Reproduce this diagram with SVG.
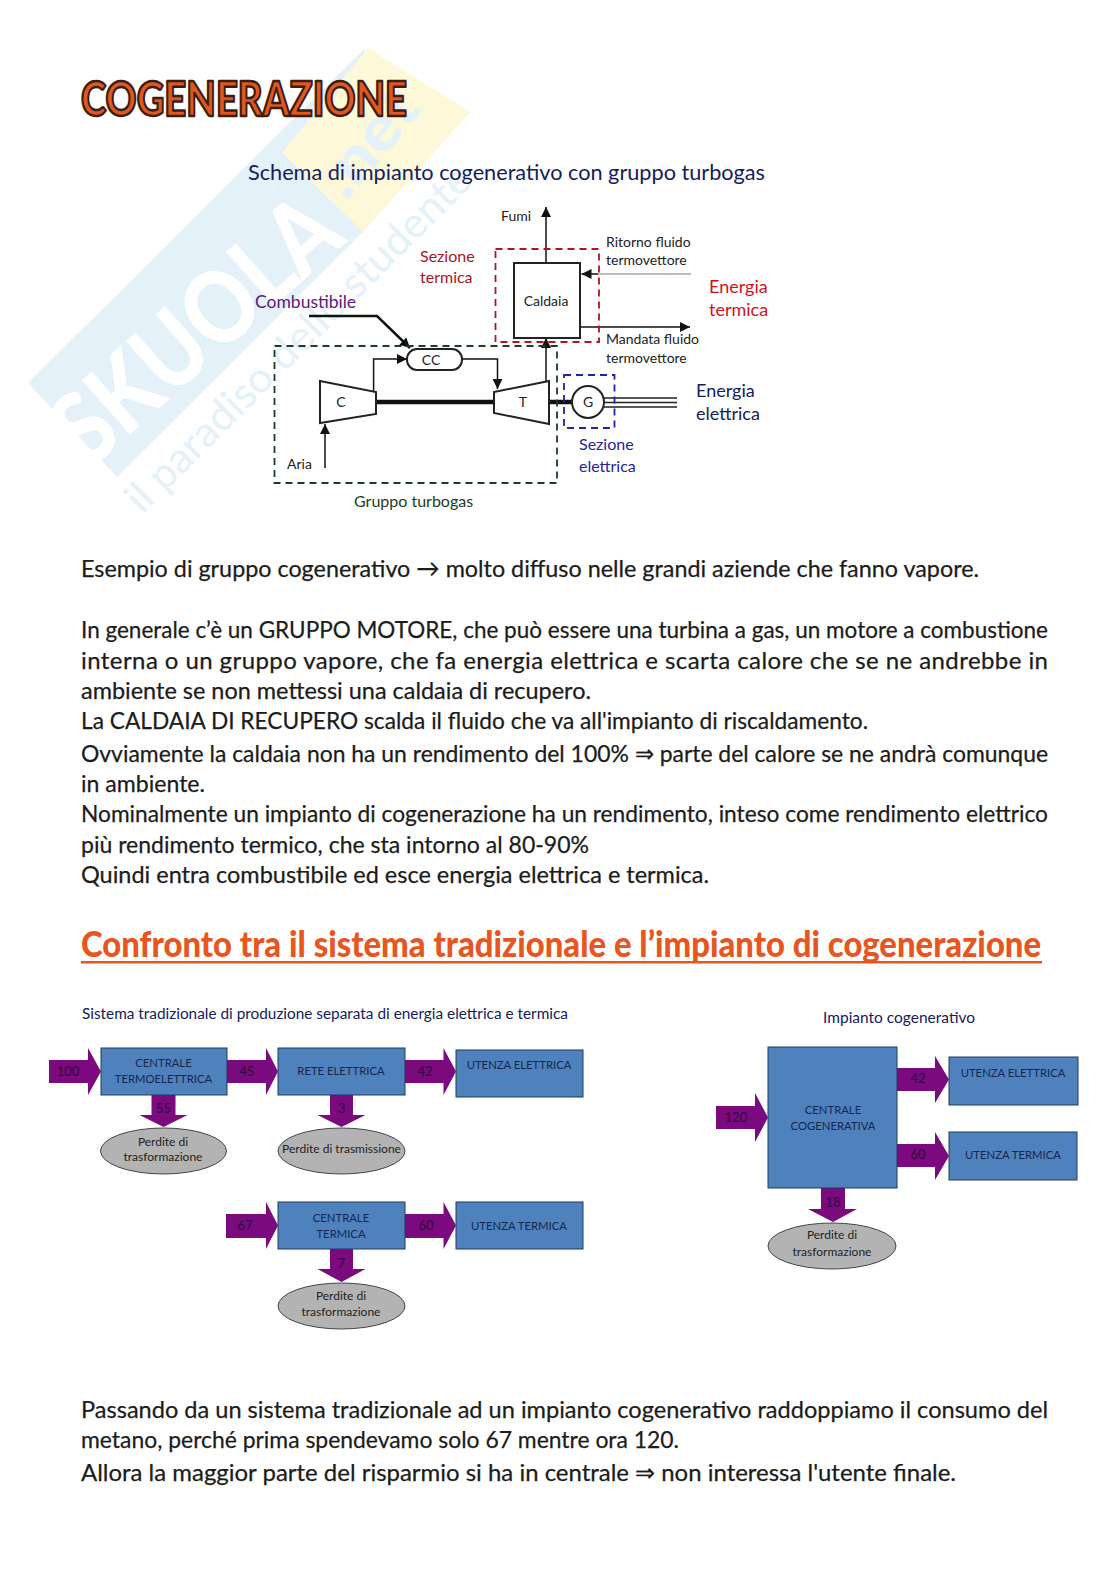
<svg xmlns="http://www.w3.org/2000/svg" width="1116" height="1579" viewBox="0 0 1116 1579">
<style>
text{font-family:"Lato","Liberation Sans",sans-serif}
.b{font-size:24px;fill:#1c1c1c;stroke:#1c1c1c;stroke-width:.25}
.s{font-size:14px;fill:#222}
.bx{font-size:11.300px;fill:#16274f;text-anchor:middle}
.gx{font-size:12px;fill:#222;text-anchor:middle}
.n{font-size:13px;fill:#2e0840;text-anchor:middle}
.box{fill:#4f81bd;stroke:#1f3a5f;stroke-width:1}
.el{fill:#b3b3b3;stroke:#444;stroke-width:1}
.ar{fill:#7a0a7e}
.ln{fill:none;stroke:#111;stroke-width:1.5}
.tk{fill:none;stroke:#111;stroke-width:4.5}
.eq{fill:#fff;stroke:#222;stroke-width:2}
</style>
<defs>
<marker id="h" viewBox="0 0 10 10" refX="10" refY="5" markerWidth="14" markerHeight="10" markerUnits="userSpaceOnUse" orient="auto"><path d="M0 0L10 5L0 10z" fill="#111"/></marker>
</defs>
<rect width="1116" height="1579" fill="#fff"/>
<g id="watermark">
<polygon points="28,383 365,48 363,232 117,477" fill="#e4f1f9"/>
<polygon points="282,153 368,48 470,112 363,232" fill="#fdf9d8"/>
<text transform="translate(90,470) rotate(-41.600)" font-size="100" font-weight="900" fill="#fff" textLength="345" lengthAdjust="spacingAndGlyphs">SKUOLA</text>
<text transform="translate(346,202) rotate(-50)" font-size="62" font-weight="900" fill="#e4f1f9" textLength="120" lengthAdjust="spacingAndGlyphs">.net</text>
<text transform="translate(142,515) rotate(-45)" font-size="42" fill="#e4f1f9" textLength="470" lengthAdjust="spacingAndGlyphs">il paradiso dello studente</text>
</g>
<text id="title" x="81" y="116" font-size="48" font-weight="900" fill="#e2571e" stroke="#3a1d14" stroke-width="2.500" stroke-linejoin="round" textLength="326" lengthAdjust="spacingAndGlyphs">COGENERAZIONE</text>
<g id="schema">
<text x="248" y="180" font-size="21" fill="#14205e" textLength="517" lengthAdjust="spacingAndGlyphs">Schema di impianto cogenerativo con gruppo turbogas</text>
<g id="connectors-schema">
<path class="ln" d="M546 263V207" marker-end="url(#h)"/>
<path fill="none" stroke="#777" stroke-width="1" d="M691 274H598"/>
<path class="ln" d="M598 274H581.500" marker-end="url(#h)"/>
<path class="ln" d="M580 327H690" stroke-width="2" marker-end="url(#h)"/>
<path fill="none" stroke="#111" stroke-width="2.500" d="M309 316H377L410 348" marker-end="url(#h)"/>
<path class="ln" d="M373.600 392V359H407" marker-end="url(#h)"/>
<path class="ln" d="M462 359H497.500V389" marker-end="url(#h)"/>
<path class="ln" d="M546 381V338" marker-end="url(#h)"/>
<path class="ln" d="M325 468V424" marker-end="url(#h)"/>
<path class="tk" d="M376 402H494M549 402H573"/>
<path fill="none" stroke="#222" stroke-width="1.500" d="M603 398H677M603 402.500H677M603 407H677"/>
</g>
<g id="caldaia"><rect x="514" y="263" width="66" height="75" class="eq"/><text x="546" y="306" class="s" text-anchor="middle">Caldaia</text></g>
<g id="cc"><rect x="407" y="349" width="55" height="21" rx="10" class="eq"/><text x="431" y="365" class="s" text-anchor="middle">CC</text></g>
<g id="compressore"><polygon points="320,381 376,392 376,414 320,423" class="eq"/><text x="341" y="407" class="s" text-anchor="middle">C</text></g>
<g id="turbina"><polygon points="494,392 549,381 549,424 494,413" class="eq"/><text x="523" y="407" class="s" text-anchor="middle">T</text></g>
<g id="generatore"><circle cx="588" cy="402" r="16" class="eq"/><text x="588" y="407" class="s" text-anchor="middle">G</text></g>
<g id="sezioni" fill="none" stroke-width="1.800" stroke-dasharray="7 5">
<rect x="274.500" y="346" width="282.500" height="137" stroke="#1d3d24"/>
<rect x="495.500" y="249" width="103.500" height="93" stroke="#b01226"/>
<rect x="564" y="375" width="50.500" height="53" stroke="#2222aa"/>
</g>
<text x="501" y="221" class="s">Fumi</text>
<text x="606" y="247" class="s">Ritorno fluido</text>
<text x="606" y="265" class="s">termovettore</text>
<text x="606" y="344" class="s">Mandata fluido</text>
<text x="606" y="363" class="s">termovettore</text>
<text x="287" y="469" class="s">Aria</text>
<text x="709" y="293" font-size="18" fill="#d4101c">Energia</text>
<text x="709" y="316" font-size="18" fill="#d4101c">termica</text>
<text x="420" y="262" font-size="16" fill="#b01226">Sezione</text>
<text x="420" y="283" font-size="16" fill="#b01226">termica</text>
<text x="255" y="308" font-size="17.500" fill="#5b1a80">Combustibile</text>
<text x="696" y="397" font-size="18" fill="#14205e">Energia</text>
<text x="696" y="420" font-size="18" fill="#14205e">elettrica</text>
<text x="579" y="450" font-size="16" fill="#2424a0">Sezione</text>
<text x="579" y="472" font-size="16" fill="#2424a0">elettrica</text>
<text x="354" y="507" font-size="16" fill="#1d3d24">Gruppo turbogas</text>
</g>
<g id="testo1">
<text class="b" x="81" y="577" textLength="898" lengthAdjust="spacingAndGlyphs">Esempio di gruppo cogenerativo → molto diffuso nelle grandi aziende che fanno vapore.</text>
<text class="b" x="81" y="638" textLength="967" lengthAdjust="spacingAndGlyphs">In generale c’è un GRUPPO MOTORE, che può essere una turbina a gas, un motore a combustione</text>
<text class="b" x="81" y="669" textLength="967">interna o un gruppo vapore, che fa energia elettrica e scarta calore che se ne andrebbe in</text>
<text class="b" x="81" y="699" textLength="510" lengthAdjust="spacingAndGlyphs">ambiente se non mettessi una caldaia di recupero.</text>
<text class="b" x="81" y="729" textLength="787" lengthAdjust="spacingAndGlyphs">La CALDAIA DI RECUPERO scalda il fluido che va all'impianto di riscaldamento.</text>
<text class="b" x="81" y="762" textLength="967" lengthAdjust="spacingAndGlyphs">Ovviamente la caldaia non ha un rendimento del 100% ⇒ parte del calore se ne andrà comunque</text>
<text class="b" x="81" y="792" textLength="124" lengthAdjust="spacingAndGlyphs">in ambiente.</text>
<text class="b" x="81" y="822" textLength="967" lengthAdjust="spacingAndGlyphs">Nominalmente un impianto di cogenerazione ha un rendimento, inteso come rendimento elettrico</text>
<text class="b" x="81" y="853" textLength="508" lengthAdjust="spacingAndGlyphs">più rendimento termico, che sta intorno al 80-90%</text>
<text class="b" x="81" y="883" textLength="628" lengthAdjust="spacingAndGlyphs">Quindi entra combustibile ed esce energia elettrica e termica.</text>
</g>
<g id="titolo2">
<text transform="translate(81,957) scale(.88,1)" font-size="37" font-weight="900" fill="#e8561f" textLength="1091" lengthAdjust="spacingAndGlyphs">Confronto tra il sistema tradizionale e l’impianto di cogenerazione</text>
<rect x="81" y="961" width="961" height="2.500" fill="#e8561f"/>
</g>
<text x="82" y="1019" font-size="14.500" fill="#14205e" textLength="486" lengthAdjust="spacingAndGlyphs">Sistema tradizionale di produzione separata di energia elettrica e termica</text>
<text x="823" y="1023" font-size="15" fill="#14205e" textLength="152" lengthAdjust="spacingAndGlyphs">Impianto cogenerativo</text>
<g id="connectors">
<polygon class="ar" points="49,1060 88,1060 88,1048 101,1071.500 88,1095 88,1083 49,1083"/>
<polygon class="ar" points="227,1060 266,1060 266,1048 278,1071.500 266,1095 266,1083 227,1083"/>
<polygon class="ar" points="405,1060 443.500,1060 443.500,1048 456,1071.500 443.500,1095 443.500,1083 405,1083"/>
<polygon class="ar" points="226,1214 266,1214 266,1202 278,1225.500 266,1249 266,1238 226,1238"/>
<polygon class="ar" points="405,1214 443.500,1214 443.500,1202 456,1225.500 443.500,1249 443.500,1238 405,1238"/>
<polygon class="ar" points="151.500,1095 175.500,1095 175.500,1115 187.500,1115 163.500,1127 139.500,1115 151.500,1115"/>
<polygon class="ar" points="330,1095 353,1095 353,1115 365.500,1115 341.500,1127 317.500,1115 330,1115"/>
<polygon class="ar" points="330,1249 353,1249 353,1269 365.500,1269 341.500,1282 317.500,1269 330,1269"/>
<polygon class="ar" points="716,1106 755,1106 755,1093 768,1117.500 755,1142 755,1129 716,1129"/>
<polygon class="ar" points="897,1068 935,1068 935,1056 949,1079.500 935,1103 935,1091 897,1091"/>
<polygon class="ar" points="897,1144 935,1144 935,1132 949,1156 935,1180 935,1167 897,1167"/>
<polygon class="ar" points="821,1188 845,1188 845,1209 857,1209 833,1222 808,1209 821,1209"/>
<text class="n" x="68" y="1076">100</text>
<text class="n" x="247" y="1076">45</text>
<text class="n" x="425" y="1076">42</text>
<text class="n" x="163.500" y="1113">55</text>
<text class="n" x="341.500" y="1113">3</text>
<text class="n" x="245" y="1230">67</text>
<text class="n" x="426" y="1230">60</text>
<text class="n" x="341.500" y="1268">7</text>
<text class="n" x="736" y="1122">120</text>
<text class="n" x="918" y="1083">42</text>
<text class="n" x="918" y="1159">60</text>
<text class="n" x="833" y="1207">18</text>
</g>
<g id="centrale-termoelettrica"><rect class="box" x="101" y="1048" width="126" height="47"/><text class="bx" x="163.500" y="1067">CENTRALE</text><text class="bx" x="163.500" y="1083">TERMOELETTRICA</text></g>
<g id="rete-elettrica"><rect class="box" x="278" y="1048" width="127" height="47"/><text class="bx" x="341" y="1075">RETE ELETTRICA</text></g>
<g id="utenza-elettrica-1"><rect class="box" x="456" y="1050" width="127" height="47"/><text class="bx" x="519" y="1069">UTENZA ELETTRICA</text></g>
<g id="perdite-1"><ellipse class="el" cx="163.500" cy="1151" rx="63" ry="23"/><text class="gx" x="163" y="1146">Perdite di</text><text class="gx" x="163" y="1161">trasformazione</text></g>
<g id="perdite-2"><ellipse class="el" cx="341.500" cy="1151" rx="63.500" ry="23"/><text class="gx" x="341.500" y="1153">Perdite di trasmissione</text></g>
<g id="centrale-termica"><rect class="box" x="278" y="1202" width="127" height="47"/><text class="bx" x="341" y="1222">CENTRALE</text><text class="bx" x="341" y="1238">TERMICA</text></g>
<g id="utenza-termica-1"><rect class="box" x="456" y="1202" width="127" height="47"/><text class="bx" x="519" y="1230">UTENZA TERMICA</text></g>
<g id="perdite-3"><ellipse class="el" cx="341.500" cy="1306" rx="63.500" ry="23"/><text class="gx" x="341" y="1300">Perdite di</text><text class="gx" x="341" y="1316">trasformazione</text></g>
<g id="centrale-cogenerativa"><rect class="box" x="768" y="1047" width="129" height="141"/><text class="bx" x="833" y="1114">CENTRALE</text><text class="bx" x="833" y="1130">COGENERATIVA</text></g>
<g id="utenza-elettrica-2"><rect class="box" x="949" y="1057" width="129" height="48"/><text class="bx" x="1013" y="1077">UTENZA ELETTRICA</text></g>
<g id="utenza-termica-2"><rect class="box" x="949" y="1132" width="128" height="48"/><text class="bx" x="1013" y="1159">UTENZA TERMICA</text></g>
<g id="perdite-4"><ellipse class="el" cx="832" cy="1246" rx="64" ry="23"/><text class="gx" x="832" y="1239">Perdite di</text><text class="gx" x="832" y="1256">trasformazione</text></g>
<g id="testo2">
<text class="b" x="81" y="1418" textLength="967" lengthAdjust="spacingAndGlyphs">Passando da un sistema tradizionale ad un impianto cogenerativo raddoppiamo il consumo del</text>
<text class="b" x="81" y="1448" textLength="598" lengthAdjust="spacingAndGlyphs">metano, perché prima spendevamo solo 67 mentre ora 120.</text>
<text class="b" x="81" y="1481" textLength="875" lengthAdjust="spacingAndGlyphs">Allora la maggior parte del risparmio si ha in centrale ⇒ non interessa l'utente finale.</text>
</g>
</svg>
